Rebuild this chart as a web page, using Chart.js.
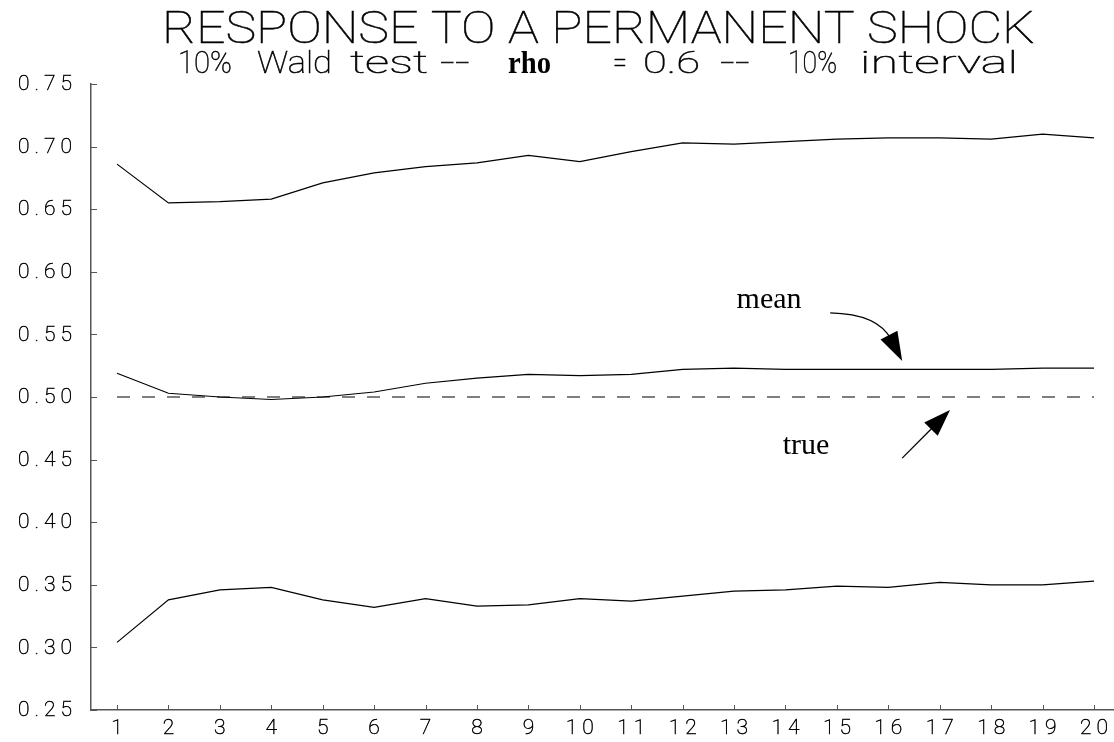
<!DOCTYPE html>
<html lang="en">
<head>
    <meta charset="UTF-8">
    <title>Response to a permanent shock</title>
    <script src="https://cdn.jsdelivr.net/npm/chart.js"></script>
    <style>
        body { margin: 0; background: #fff; }
        #caixa { width: 1114px; height: 742px; }
    </style>
</head>
<body>
    <div id="caixa"><canvas id="grafico"></canvas></div>

    <script>
        // horizon steps (x axis)
        const steps = [1, 2, 3, 4, 5, 6, 7, 8, 9, 10, 11, 12, 13, 14, 15, 16, 17, 18, 19, 20];

        // upper bound of the 10% interval
        const upperBand = [0.686, 0.655, 0.656, 0.658, 0.671, 0.679, 0.684, 0.687, 0.693, 0.688,
                           0.696, 0.703, 0.702, 0.704, 0.706, 0.707, 0.707, 0.706, 0.710, 0.707];

        // mean response
        const meanResponse = [0.519, 0.503, 0.500, 0.498, 0.500, 0.504, 0.511, 0.515, 0.518, 0.517,
                              0.518, 0.522, 0.523, 0.522, 0.522, 0.522, 0.522, 0.522, 0.523, 0.523];

        // lower bound of the 10% interval
        const lowerBand = [0.304, 0.338, 0.346, 0.348, 0.338, 0.332, 0.339, 0.333, 0.334, 0.339,
                           0.337, 0.341, 0.345, 0.346, 0.349, 0.348, 0.352, 0.350, 0.350, 0.353];

        // true response
        const trueResponse = [0.5, 0.5, 0.5, 0.5, 0.5, 0.5, 0.5, 0.5, 0.5, 0.5,
                              0.5, 0.5, 0.5, 0.5, 0.5, 0.5, 0.5, 0.5, 0.5, 0.5];

        const yTicks = [0.25, 0.30, 0.35, 0.40, 0.45, 0.50, 0.55, 0.60, 0.65, 0.70, 0.75];

        const titulo = 'RESPONSE TO A PERMANENT SHOCK';
        // subtitle words, each with its left/right pixel span
        const subtitulo = [
            ['10%', 178, 232], ['Wald', 257, 332], ['test', 350, 428], ['--', 440, 470],
            ['=', 613, 627], ['0.6', 643, 700], ['--', 720, 750], ['10%', 788, 837], ['interval', 860, 1018]
        ];
        const subtituloRho = ['rho', 508, 551];

        // annotations, in data units
        const notas = {
            mean: { text: 'mean', x: 13.68, y: 0.5776 },
            meanArrow: { from: [14.87, 0.5672], ctrl: [15.80, 0.5664], to: [16.27, 0.5288] },
            true: { text: 'true', x: 14.40, y: 0.4608 },
            trueArrow: { from: [16.27, 0.4512], to: [17.20, 0.4896] }
        };

        const fonteFina = '"Roboto", "DejaVu Sans", sans-serif';
        const fonteSerif = '"Liberation Serif", "Times New Roman", serif';
        const corEixo = '#555';

        function pontos(valores) {
            return steps.map((s, i) => ({ x: s, y: valores[i] }));
        }

        // thin text: fill plus a hairline stroke so it reads black like a plotter pen
        function textoFino(ctx, texto, x, y) {
            ctx.fillText(texto, x, y);
            ctx.strokeText(texto, x, y);
        }

        function textoAjustado(ctx, texto, esq, dir, base) {
            const w = ctx.measureText(texto).width;
            ctx.save();
            ctx.translate(esq, base);
            ctx.scale((dir - esq) / w, 1);
            textoFino(ctx, texto, 0, 0);
            ctx.restore();
        }

        function pontaSeta(ctx, px, py, ang, comp, larg) {
            ctx.beginPath();
            ctx.moveTo(px, py);
            ctx.lineTo(px - comp * Math.cos(ang) + larg / 2 * Math.sin(ang), py - comp * Math.sin(ang) - larg / 2 * Math.cos(ang));
            ctx.lineTo(px - comp * Math.cos(ang) - larg / 2 * Math.sin(ang), py - comp * Math.sin(ang) + larg / 2 * Math.cos(ang));
            ctx.closePath();
            ctx.fill();
        }

        const extras = {
            id: 'extras',
            afterDraw(chart) {
                const ctx = chart.ctx;
                const xs = chart.scales.x, ys = chart.scales.y;
                const area = chart.chartArea;

                // inner tick marks
                ctx.save();
                ctx.strokeStyle = corEixo;
                ctx.lineWidth = 1;
                ctx.beginPath();
                ys.ticks.forEach(t => {
                    const py = Math.round(ys.getPixelForValue(t.value)) + 0.5;
                    ctx.moveTo(area.left, py);
                    ctx.lineTo(area.left + 6, py);
                });
                xs.ticks.forEach(t => {
                    const px = Math.round(xs.getPixelForValue(t.value)) + 0.5;
                    ctx.moveTo(px, area.bottom);
                    ctx.lineTo(px, area.bottom - 5);
                });
                ctx.stroke();
                ctx.restore();

                // tick labels, thin and widely spaced
                ctx.save();
                ctx.fillStyle = '#000';
                ctx.strokeStyle = '#000';
                ctx.lineWidth = 0.5;
                ctx.font = '100 21px ' + fonteFina;
                ctx.letterSpacing = '5px';
                ctx.textBaseline = 'middle';
                ctx.textAlign = 'right';
                ys.ticks.forEach(t => {
                    textoFino(ctx, t.value.toFixed(2), 77, ys.getPixelForValue(t.value) + 1);
                });
                ctx.textAlign = 'center';
                xs.ticks.forEach(t => {
                    textoFino(ctx, String(t.value), xs.getPixelForValue(t.value) + 2.5, area.bottom + 19);
                });
                ctx.restore();

                // titles
                ctx.save();
                ctx.fillStyle = '#000';
                ctx.strokeStyle = '#000';
                ctx.lineWidth = 0.5;
                ctx.textBaseline = 'alphabetic';
                ctx.font = '100 44px ' + fonteFina;
                textoAjustado(ctx, titulo, 162, 1035, 43);
                ctx.font = '100 31px ' + fonteFina;
                subtitulo.forEach(([txt, esq, dir]) => textoAjustado(ctx, txt, esq, dir, 73));
                ctx.font = 'bold 31px ' + fonteSerif;
                const r = subtituloRho;
                const wr = ctx.measureText(r[0]).width;
                ctx.save();
                ctx.translate(r[1], 73);
                ctx.scale((r[2] - r[1]) / wr, 1);
                ctx.fillText(r[0], 0, 0);
                ctx.restore();
                ctx.restore();

                // annotations
                const X = v => xs.getPixelForValue(v);
                const Y = v => ys.getPixelForValue(v);
                ctx.save();
                ctx.fillStyle = '#000';
                ctx.strokeStyle = '#000';
                ctx.lineWidth = 1.3;
                ctx.font = '30px ' + fonteSerif;
                ctx.textAlign = 'center';
                ctx.textBaseline = 'middle';
                ctx.fillText(notas.mean.text, X(notas.mean.x), Y(notas.mean.y));
                ctx.fillText(notas.true.text, X(notas.true.x), Y(notas.true.y));

                const m = notas.meanArrow;
                const ax = X(m.from[0]), ay = Y(m.from[1]);
                const cx = X(m.ctrl[0]), cy = Y(m.ctrl[1]);
                const tx = X(m.to[0]), ty = Y(m.to[1]);
                const angM = Math.atan2(ty - cy, tx - cx);
                const bx = tx - 24 * Math.cos(angM), by = ty - 24 * Math.sin(angM);
                ctx.beginPath();
                ctx.moveTo(ax, ay);
                ctx.quadraticCurveTo(cx, cy, bx, by);
                ctx.stroke();
                pontaSeta(ctx, tx, ty, angM, 29, 19);

                const t = notas.trueArrow;
                const sx = X(t.from[0]), sy = Y(t.from[1]);
                const ex = X(t.to[0]), ey = Y(t.to[1]);
                const angT = Math.atan2(ey - sy, ex - sx);
                ctx.beginPath();
                ctx.moveTo(sx, sy);
                ctx.lineTo(ex - 20 * Math.cos(angT), ey - 20 * Math.sin(angT));
                ctx.stroke();
                pontaSeta(ctx, ex, ey, angT, 27, 19);
                ctx.restore();
            }
        };

        const estiloLinha = { borderColor: '#000', borderWidth: 1.2, pointRadius: 0, fill: false, tension: 0 };

        new Chart(document.getElementById('grafico'), {
            type: 'line',
            data: {
                datasets: [
                    { label: 'upper', data: pontos(upperBand), ...estiloLinha },
                    { label: 'mean', data: pontos(meanResponse), ...estiloLinha },
                    { label: 'lower', data: pontos(lowerBand), ...estiloLinha },
                    { label: 'true', data: pontos(trueResponse), ...estiloLinha, borderDash: [13, 12] }
                ]
            },
            options: {
                animation: false,
                responsive: true,
                maintainAspectRatio: false,
                devicePixelRatio: 1,
                layout: { padding: { top: 84, left: 0, right: 0, bottom: 0 } },
                plugins: {
                    legend: { display: false },
                    tooltip: { enabled: false },
                    title: { display: false }
                },
                scales: {
                    x: {
                        type: 'linear',
                        min: 0.494,
                        max: 20.389,
                        grid: { display: false, drawTicks: false },
                        border: { display: true, color: corEixo, width: 1.5 },
                        afterBuildTicks: s => { s.ticks = steps.map(v => ({ value: v })); },
                        afterFit: s => { s.height = 32; },
                        ticks: { display: false }
                    },
                    y: {
                        min: 0.25,
                        max: 0.75,
                        grid: { display: false, drawTicks: false },
                        border: { display: true, color: corEixo, width: 1.5 },
                        afterBuildTicks: s => { s.ticks = yTicks.map(v => ({ value: v })); },
                        afterFit: s => { s.width = 91; },
                        ticks: { display: false }
                    }
                }
            },
            plugins: [extras]
        });
    </script>
</body>
</html>
